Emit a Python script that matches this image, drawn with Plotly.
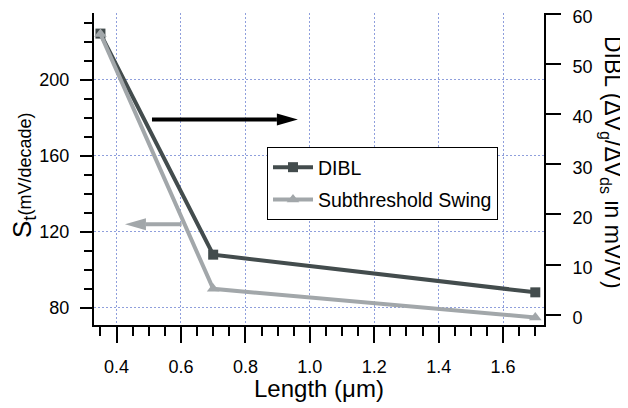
import plotly.graph_objects as go

# ---- data ----
length_um = [0.35, 0.7, 1.7]
dibl_mv_per_v = [56, 12, 4.5]
swing_mv_dec = [224, 90, 75]

x_ticks = [0.4, 0.6, 0.8, 1.0, 1.2, 1.4, 1.6]
left_ticks = [80, 120, 160, 200]
right_ticks = [0, 10, 20, 30, 40, 50, 60]

FONT = "Liberation Sans, Arial, Helvetica, sans-serif"
DARK = "#434c4d"
LIGHT = "#a2a7aa"
GRID = "#8f9fdc"

# page offset from default body margin
OFF = 8
W, H = 628, 408
# desired plot area in screen px
PL, PR, PT, PB = 94, 544, 13, 325
ML, MT = PL - OFF, PT - OFF
MR, MB = W - (PR - OFF), H - (PB - OFF)
XR = [0.33, 1.727]
YL = [71, 235]
YR = [-2, 60.1]
pw = PR - PL
ph = PB - PT

fig = go.Figure()
fig.add_trace(go.Scatter(
    x=length_um, y=dibl_mv_per_v, name="DIBL", yaxis="y",
    mode="lines+markers", legendgroup="a",
    line=dict(color=DARK, width=4),
    marker=dict(symbol="square", size=10, color=DARK)))
fig.add_trace(go.Scatter(
    x=length_um, y=swing_mv_dec, name="Subthreshold Swing", yaxis="y2",
    mode="lines+markers", legendgroup="b",
    line=dict(color=LIGHT, width=4),
    marker=dict(symbol="triangle-up", size=11, color=LIGHT)))

# arrows (in data units of x and left axis)
arrows = [
    dict(x0=0.51, x1=0.963, y=179, color="black"),
    dict(x0=0.602, x1=0.426, y=124, color=LIGHT),
]
head_len_px, head_half_px = 21, 6
xs = (XR[1] - XR[0]) / pw
ys = (YL[1] - YL[0]) / ph
shapes = []
for a in arrows:
    d = 1 if a["x1"] > a["x0"] else -1
    xb = a["x1"] - d * head_len_px * xs
    shapes.append(dict(type="line", xref="x", yref="y2", x0=a["x0"], x1=xb,
                       y0=a["y"], y1=a["y"], line=dict(color=a["color"], width=4)))
    hh = head_half_px * ys
    shapes.append(dict(type="path", xref="x", yref="y2",
                       path=f"M{xb},{a['y']-hh} L{a['x1']},{a['y']} L{xb},{a['y']+hh} Z",
                       fillcolor=a["color"], line=dict(color=a["color"], width=0)))


def px(sx):
    return (sx - PL) / pw


def py(sy):
    return (PB - sy) / ph


fig.update_layout(
    width=W, height=H,
    margin=dict(l=ML, r=MR, t=MT, b=MB, autoexpand=False),
    paper_bgcolor="white", plot_bgcolor="white",
    font=dict(family=FONT, color="black", size=18),
    showlegend=True,
    legend=dict(x=px(267), y=py(147), xanchor="left", yanchor="top",
                bordercolor="black", borderwidth=1, bgcolor="white",
                font=dict(family=FONT, size=19.5, color="black"),
                itemwidth=40, tracegroupgap=4),
    xaxis=dict(range=XR, tickvals=x_ticks, tickformat=".1f", automargin=False,
               showline=True, linecolor="black", linewidth=2, mirror=False,
               ticks="outside", ticklen=16, tickwidth=2, tickcolor="black",
               ticklabelstandoff=8,
               minor=dict(dtick=0.05, tick0=0.35, ticks="outside", ticklen=9,
                          tickwidth=2, tickcolor="black", showgrid=False),
               showgrid=True, gridcolor=GRID, griddash="2px,2px", gridwidth=1,
               zeroline=False, tickfont=dict(size=18)),
    yaxis=dict(range=YR, tickvals=right_ticks, side="right", automargin=False,
               showline=True, linecolor="black", linewidth=2,
               ticks="outside", ticklen=15, tickwidth=2, tickcolor="black",
               ticklabelstandoff=8, ticklabeloverflow="allow", ticklabelshift=3,
               showgrid=False, zeroline=False, tickfont=dict(size=18)),
    yaxis2=dict(range=YL, tickvals=left_ticks, side="left", overlaying="y", automargin=False,
                showline=True, linecolor="black", linewidth=2,
                ticks="outside", ticklen=12, tickwidth=2, tickcolor="black",
                ticklabelstandoff=7,
                minor=dict(dtick=10, tick0=80, ticks="outside", ticklen=8,
                           tickwidth=2, tickcolor="black", showgrid=False),
                showgrid=True, gridcolor=GRID, griddash="2px,2px", gridwidth=1,
                zeroline=False, tickfont=dict(size=18)),
    shapes=shapes,
    annotations=[
        dict(text="Length (\u03bcm)", xref="paper", yref="paper",
             x=px(319), y=py(388), xanchor="center", yanchor="middle",
             showarrow=False, font=dict(size=24)),
        dict(text="S<sub>t</sub><span style='font-size:18px'>(mV/decade)</span>",
             xref="paper", yref="paper", x=px(24), y=py(176),
             xanchor="center", yanchor="middle", textangle=-90,
             showarrow=False, font=dict(size=26)),
        dict(text="DIBL (\u0394V<sub>g</sub>/\u0394V<sub>ds</sub> in mV/V)",
             xref="paper", yref="paper", x=px(612), y=py(162),
             xanchor="center", yanchor="middle", textangle=90,
             showarrow=False, font=dict(size=23)),
    ],
)

fig.write_html("out.html")
